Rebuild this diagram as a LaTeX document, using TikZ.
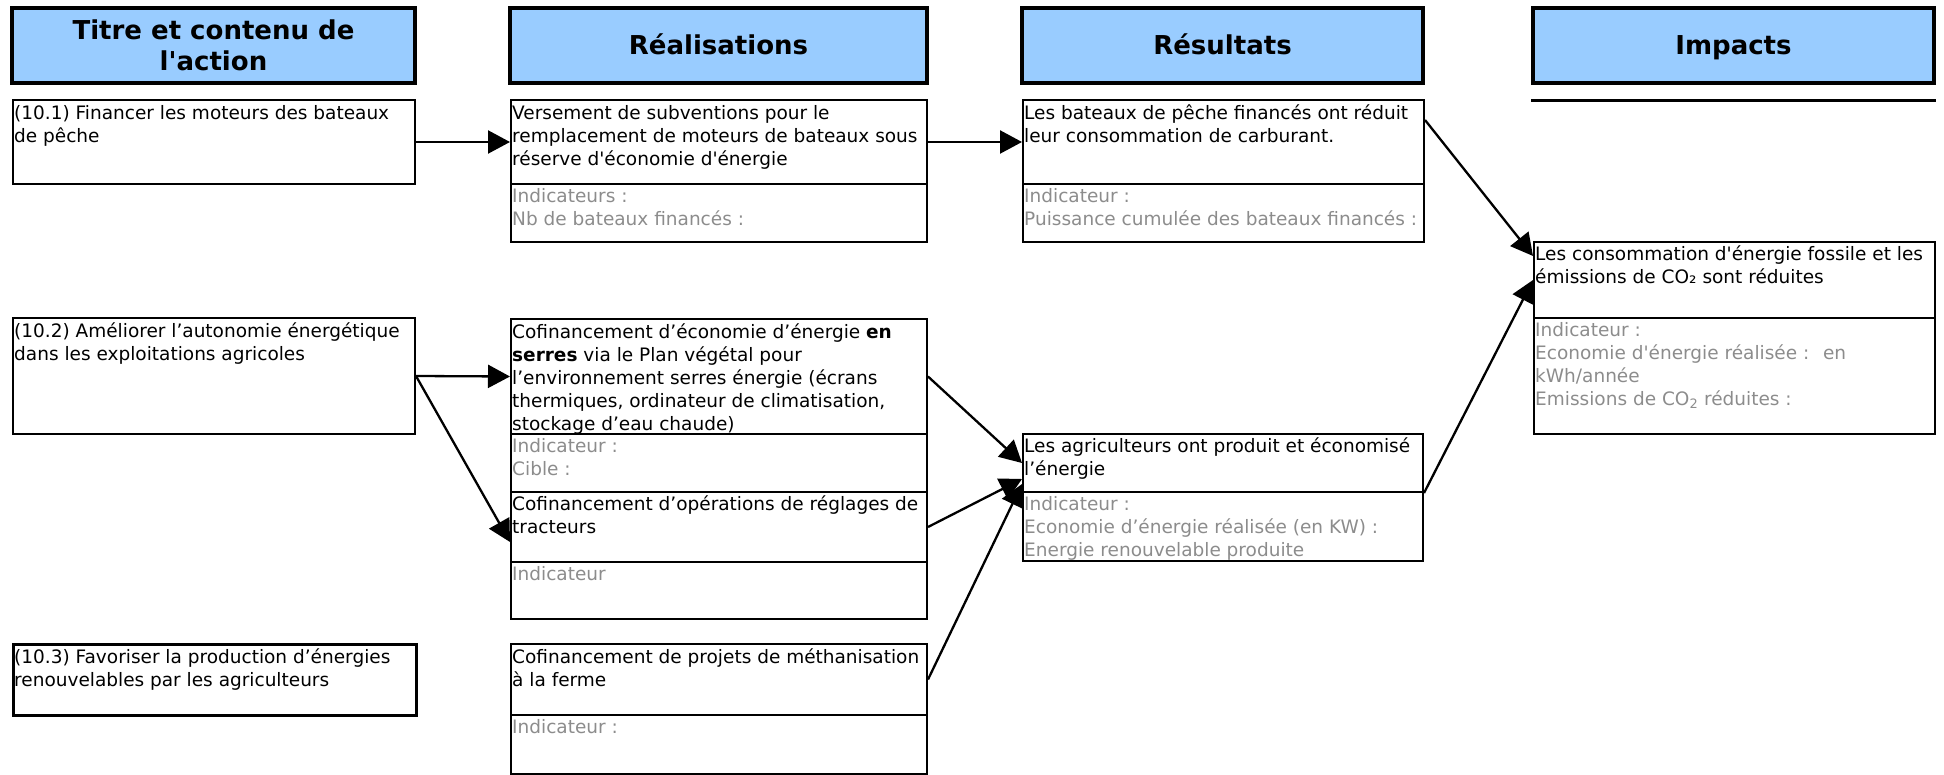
\documentclass[tikz,border=0pt]{standalone}
\usepackage{fontspec}
\setmainfont{DejaVu Sans}
\usetikzlibrary{arrows.meta}
\definecolor{hdrblue}{RGB}{153,204,255}
\definecolor{indgray}{RGB}{140,140,140}
\newcommand\mkcell[6][cell]{\node[#1, minimum width={(#5-#3)*1pt}, minimum height={(#6-#4)*1pt}] (#2) at (#3,#4) {};}
\newcommand\mkhdr[7][]{\node[hdr, #1, minimum width={(#5-#3)*1pt}, minimum height={(#6-#4)*1pt}] (#2) at ({(#3+#5)/2},{(#4+#6)/2}) {#7};}
\begin{document}
\begin{tikzpicture}[x=1pt,y=-1pt,
 hdr/.style={draw=black, line width=3.4pt, fill=hdrblue, inner sep=0pt, font=\fontsize{26}{31}\selectfont\bfseries, align=center},
 oneline/.style={text height=19pt, text depth=0pt},
 cell/.style={draw=black, line width=2pt, anchor=north west, inner sep=0pt},
 thickcell/.style={cell, line width=3pt},
 txt/.style={anchor=north west, inner sep=0pt, align=left, font=\fontsize{18.5}{23}\selectfont},
 ind/.style={txt, text=indgray},
 conn/.style={line width=2.3pt, -{Triangle[length=22pt,width=23pt]}},
]
\useasboundingbox (0,0) rectangle (1944,775);
% headers
\mkhdr{H1}{12}{8}{415}{83}{Titre et contenu de\\l\textquotesingle action}
\mkhdr[oneline]{H2}{510}{8}{927}{83}{Réalisations}
\mkhdr[oneline]{H3}{1022}{8}{1423}{83}{Résultats}
\mkhdr[oneline]{H4}{1533}{8}{1934}{83}{Impacts}
\draw[line width=2.5pt] ([yshift=-16pt]H4.south west) -- ([yshift=-16pt]H4.south east);
% cells
\mkcell{A1}{12}{99}{414}{183}
\mkcell{R1a}{510}{99}{926}{183}
\mkcell{R1i}{510}{183}{926}{241}
\mkcell{S1a}{1022}{99}{1423}{183}
\mkcell{S1i}{1022}{183}{1423}{241}
\mkcell{Ia}{1533}{241}{1934}{317}
\mkcell{Ii}{1533}{317}{1934}{433}
\mkcell{A2}{12}{317}{414}{433}
\mkcell{R2a}{510}{318}{926}{433}
\mkcell{R2ai}{510}{433}{926}{491}
\mkcell{R2b}{510}{491}{926}{561}
\mkcell{R2bi}{510}{561}{926}{618}
\mkcell{S2a}{1022}{433}{1422}{491}
\mkcell{S2i}{1022}{491}{1422}{560}
\mkcell[thickcell]{A3}{12}{643}{415}{714}
\mkcell{R3a}{510}{643}{926}{714}
\mkcell{R3i}{510}{714}{926}{773}
% texts
\node[txt] (A1t) at ([xshift=2pt,yshift=-3pt]A1.north west) {\rule{0pt}{17pt}(10.1) Financer les moteurs des bateaux\\de pêche};
\node[txt] (R1at) at ([xshift=2pt,yshift=-3pt]R1a.north west) {\rule{0pt}{17pt}Versement de subventions pour le\\remplacement de moteurs de bateaux sous\\réserve d\textquotesingle économie d\textquotesingle énergie};
\node[ind] (R1it) at ([xshift=2pt,yshift=-2pt]R1i.north west) {\rule{0pt}{17pt}Indicateurs :\\Nb de bateaux financés :};
\node[txt] (S1at) at ([xshift=2pt,yshift=-3pt]S1a.north west) {\rule{0pt}{17pt}Les bateaux de pêche financés ont réduit\\leur consommation de carburant.};
\node[ind] (S1it) at ([xshift=2pt,yshift=-2pt]S1i.north west) {\rule{0pt}{17pt}Indicateur :\\Puissance cumulée des bateaux financés :};
\node[txt] (Iat) at ([xshift=2pt,yshift=-2pt]Ia.north west) {\rule{0pt}{17pt}Les consommation d\textquotesingle énergie fossile et les\\émissions de CO₂ sont réduites};
\node[ind] (Iit) at ([xshift=2pt,yshift=-2pt]Ii.north west) {\rule{0pt}{17pt}Indicateur :\\Economie d\textquotesingle énergie réalisée :~ en\\kWh/année\\Emissions de CO\textsubscript{2} réduites :};
\node[txt] (A2t) at ([xshift=2pt,yshift=-3pt]A2.north west) {\rule{0pt}{17pt}(10.2) Améliorer l’autonomie énergétique\\dans les exploitations agricoles};
\node[txt] (R2at) at ([xshift=2pt,yshift=-3pt]R2a.north west) {\rule{0pt}{17pt}Cofinancement d’économie d’énergie \textbf{en}\\\textbf{serres} via le Plan végétal pour\\l’environnement serres énergie (écrans\\thermiques, ordinateur de climatisation,\\stockage d’eau chaude)};
\node[ind] (R2ait) at ([xshift=2pt,yshift=-2pt]R2ai.north west) {\rule{0pt}{17pt}Indicateur :\\Cible :};
\node[txt] (R2bt) at ([xshift=2pt,yshift=-2pt]R2b.north west) {\rule{0pt}{17pt}Cofinancement d’opérations de réglages de\\tracteurs};
\node[ind] (R2bit) at ([xshift=2pt,yshift=-2pt]R2bi.north west) {\rule{0pt}{17pt}Indicateur};
\node[txt] (S2at) at ([xshift=2pt,yshift=-2pt]S2a.north west) {\rule{0pt}{17pt}Les agriculteurs ont produit et économisé\\l’énergie};
\node[ind] (S2it) at ([xshift=2pt,yshift=-2pt]S2i.north west) {\rule{0pt}{17pt}Indicateur :\\Economie d’énergie réalisée (en KW) :\\Energie renouvelable produite};
\node[txt] (A3t) at ([xshift=2pt,yshift=-3pt]A3.north west) {\rule{0pt}{17pt}(10.3) Favoriser la production d’énergies\\renouvelables par les agriculteurs};
\node[txt] (R3at) at ([xshift=2pt,yshift=-3pt]R3a.north west) {\rule{0pt}{17pt}Cofinancement de projets de méthanisation\\à la ferme};
\node[ind] (R3it) at ([xshift=2pt,yshift=-2pt]R3i.north west) {\rule{0pt}{17pt}Indicateur :};
% connectors
\draw[conn] (A1.east) -- (R1a.west);
\draw[conn] (R1a.east) -- (S1a.west);
\draw[conn] (A2.east) -- (R2a.west);
\draw[conn] (A2.east) -- ([yshift=-15pt]R2b.west);
\draw[conn] (R2a.east) -- (S2a.west);
\draw[conn] (R2b.east) -- ([yshift=-16pt]S2a.west);
\draw[conn] (R3a.east) -- ([yshift=-21pt]S2a.west);
\draw[conn] ([yshift=-21pt]S1a.north east) -- ([yshift=24pt]Ia.west);
\draw[conn] (S2a.south east) -- (Ia.west);
\end{tikzpicture}
\end{document}
